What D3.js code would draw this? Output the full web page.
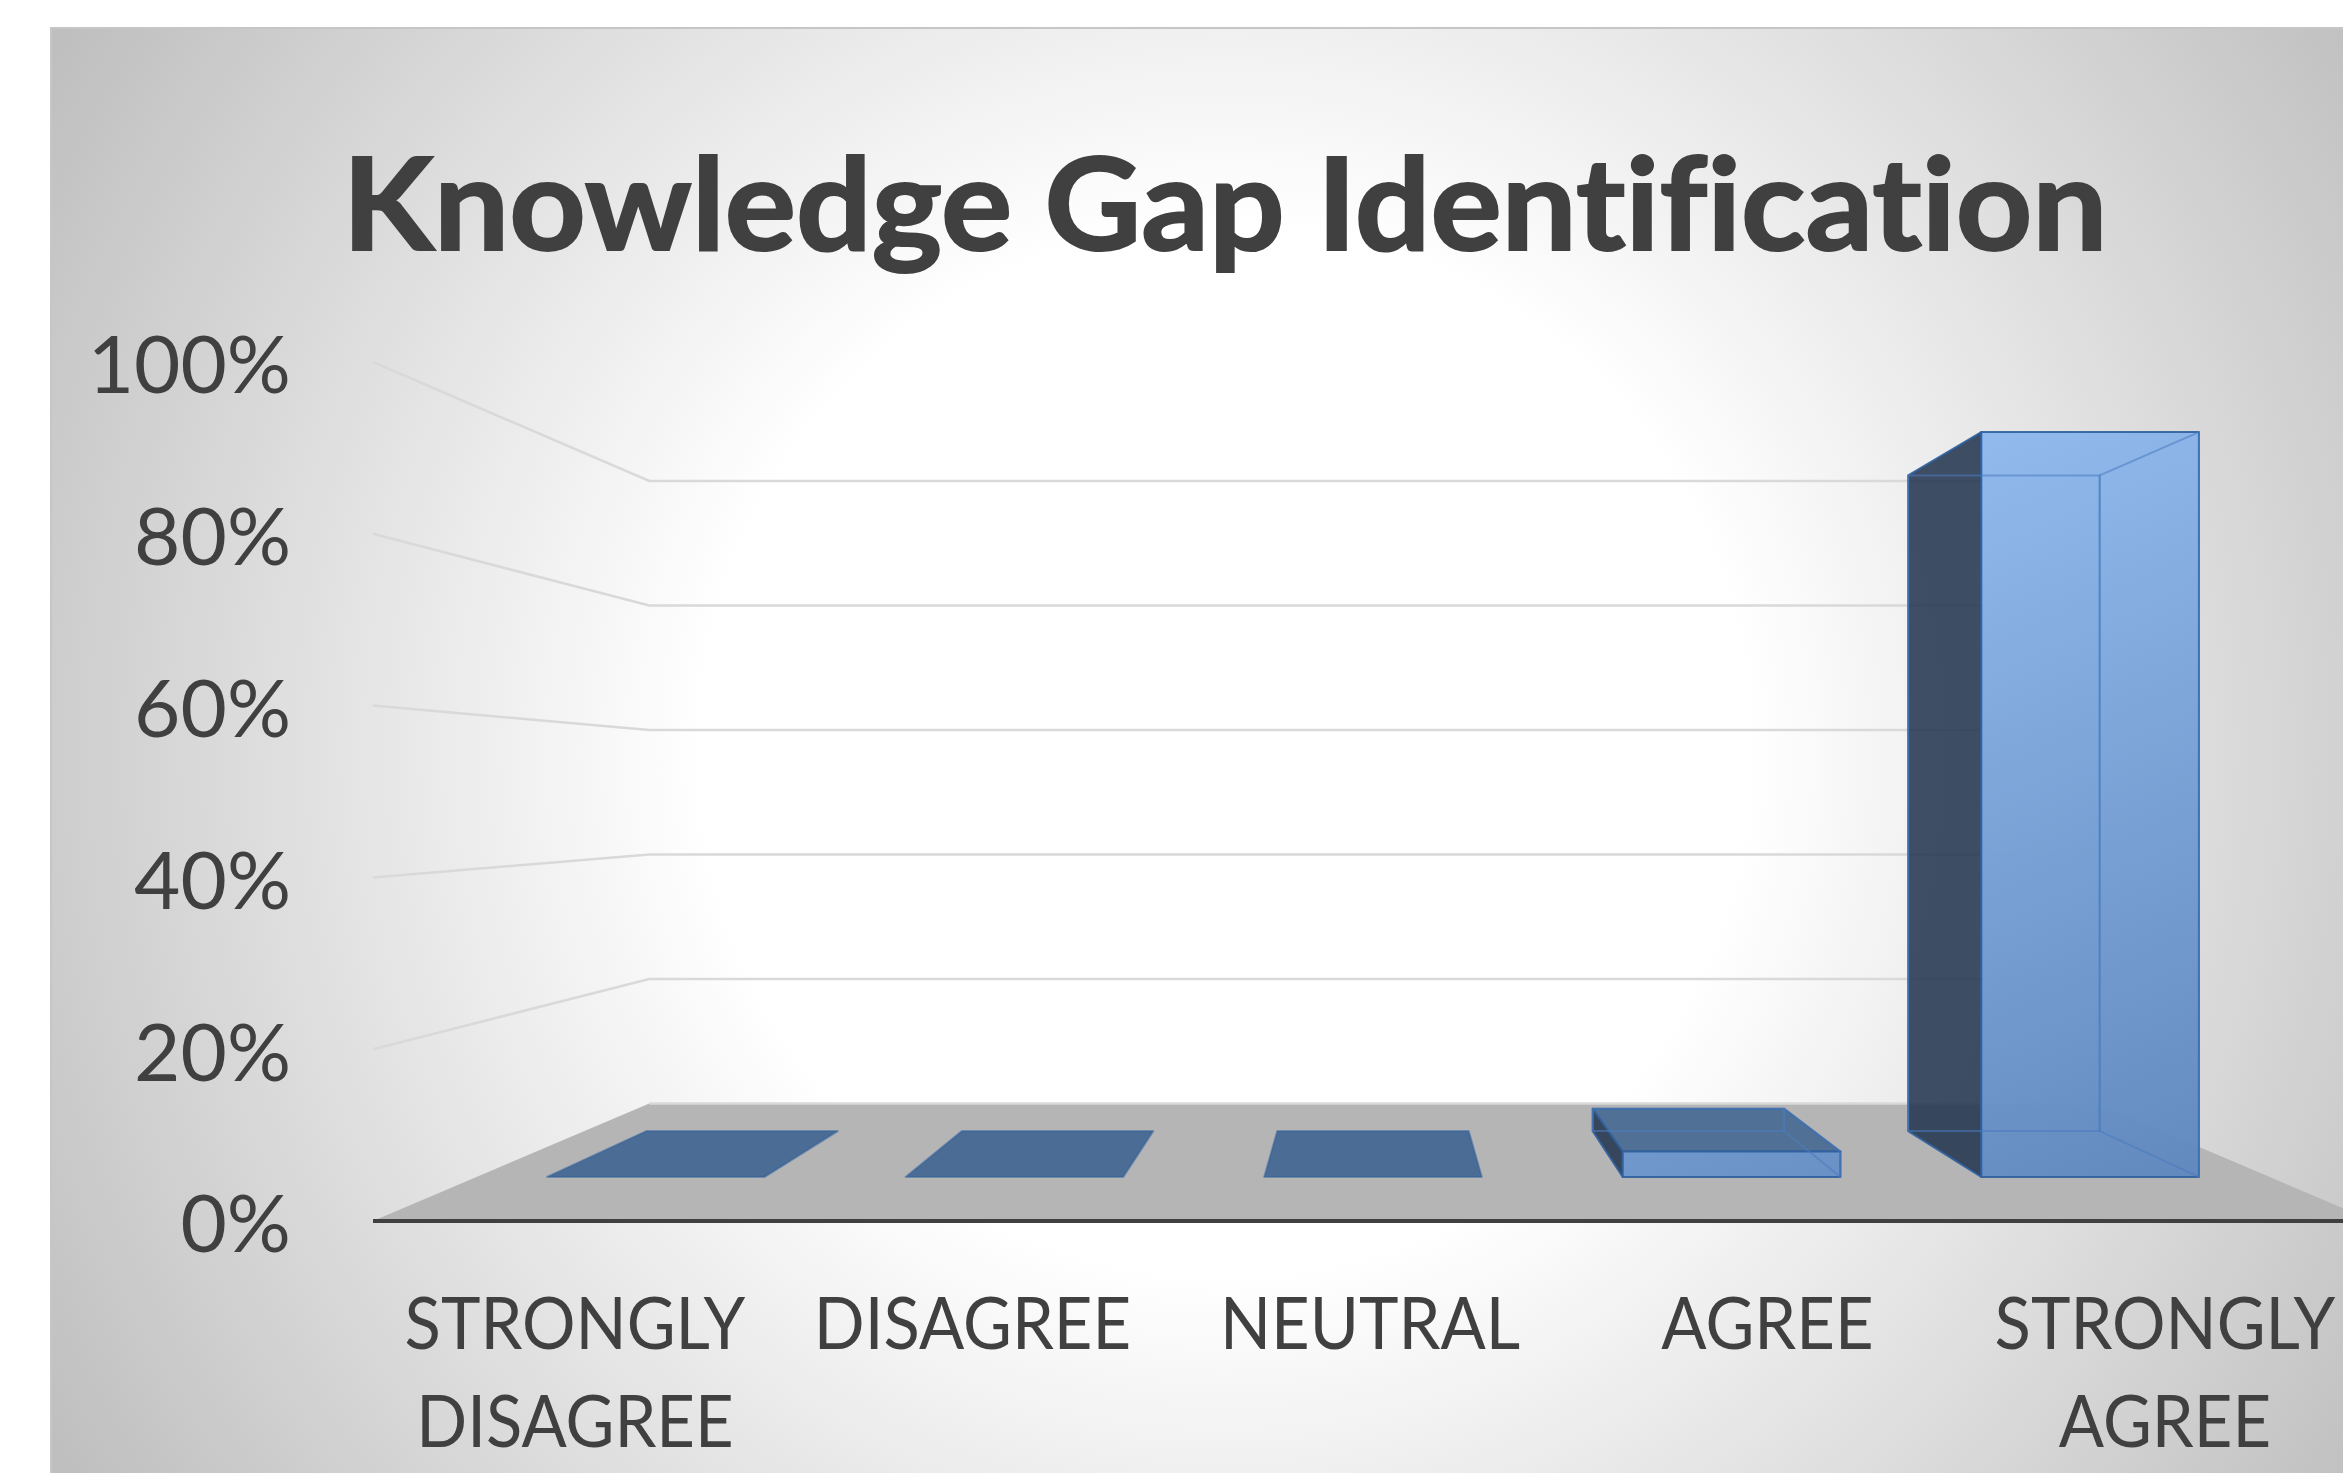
<!DOCTYPE html>
<html>
<head>
<meta charset="utf-8">
<script src="https://cdn.jsdelivr.net/npm/d3@7"></script>
<style>
  html, body { margin: 0; padding: 0; background: #fff; overflow: hidden; }
  text { font-family: Lato, "Open Sans", sans-serif; fill: #404040; font-variant-ligatures: none; }
</style>
</head>
<body>
<div id="container"></div>
<script>
var title = "Knowledge Gap Identification";
var categories = ["STRONGLY DISAGREE", "DISAGREE", "NEUTRAL", "AGREE", "STRONGLY AGREE"];
var categoryLines = [["STRONGLY", "DISAGREE"], ["DISAGREE"], ["NEUTRAL"], ["AGREE"], ["STRONGLY", "AGREE"]];
var values = [0, 0, 0, 3.3, 96.7];
var yTicks = [0, 20, 40, 60, 80, 100];

var width = 2343, height = 1473;

var svg = d3.select("#container").append("svg")
    .attr("width", width)
    .attr("height", height)
    .style("display", "block");

var defs = svg.append("defs");

var bg = defs.append("radialGradient")
    .attr("id", "bg")
    .attr("gradientUnits", "userSpaceOnUse")
    .attr("cx", 1225).attr("cy", 750).attr("r", 1360);
bg.append("stop").attr("offset", "0.385").attr("stop-color", "#ffffff");
bg.append("stop").attr("offset", "1").attr("stop-color", "#bfbfbf");

var frontFill = defs.append("linearGradient")
    .attr("id", "frontFill")
    .attr("gradientUnits", "userSpaceOnUse")
    .attr("x1", 1950).attr("y1", 430).attr("x2", 2250).attr("y2", 1180);
frontFill.append("stop").attr("offset", "0").attr("stop-color", "#8fb9ee");
frontFill.append("stop").attr("offset", "1").attr("stop-color", "#5e87bd");

// depth 0 = front of the floor, depth 1 = back wall
var centerX = 1373;
var spacing = d3.scaleLinear().domain([0, 1]).range([400, 289.5]);
var baseY = d3.scaleLinear().domain([0, 1]).range([1221, 1103.5]);
var fullH = d3.scaleLinear().domain([0, 1]).range([859, 622.5]);
var barIndex = d3.scaleLinear().domain([0, categories.length]).range([-2.5, 2.5]);

var barDepthFront = 0.375, barDepthBack = 0.765, barWidth = 0.607;

function project(u, depth, v) {
    return [
        centerX + barIndex(u) * spacing(depth),
        baseY(depth) - v / 100 * fullH(depth)
    ];
}
function poly(pts) {
    return pts.map(p => p.join(",")).join(" ");
}

svg.append("rect")
    .attr("x", 51).attr("y", 28)
    .attr("width", width + 20).attr("height", height + 20)
    .attr("fill", "url(#bg)")
    .attr("stroke", "#c6c6c6")
    .attr("stroke-width", 2);

var n = categories.length;

// floor
svg.append("polygon")
    .attr("points", poly([project(0, 0, 0), project(0, 1, 0), project(n, 1, 0), project(n, 0, 0)]))
    .attr("fill", "#b5b5b5");

// grid lines, side wall part then back wall part
svg.append("g").selectAll("polyline")
    .data(yTicks)
    .enter().append("polyline")
    .attr("points", d => d === 0
        ? poly([project(0, 1, 0), project(n, 1, 0)])
        : poly([project(0, 0, d), project(0, 1, d), project(n, 1, d)]))
    .attr("fill", "none")
    .attr("stroke", "#d9d9d9")
    .attr("stroke-width", 2.5);

svg.append("line")
    .attr("x1", project(0, 0, 0)[0]).attr("y1", baseY(0))
    .attr("x2", width).attr("y2", baseY(0))
    .attr("stroke", "#404040")
    .attr("stroke-width", 4);

// bars
var barColor = "#2f5f9e";
var innerColor = "#4a7cc0";
var bars = svg.append("g").selectAll("g.bar")
    .data(values)
    .enter().append("g")
    .attr("class", "bar");

function corners(v, i) {
    var a = i + (1 - barWidth) / 2, b = i + (1 + barWidth) / 2;
    return {
        fbl: project(a, barDepthFront, 0), fbr: project(b, barDepthFront, 0),
        ftl: project(a, barDepthFront, v), ftr: project(b, barDepthFront, v),
        bbl: project(a, barDepthBack, 0), bbr: project(b, barDepthBack, 0),
        btl: project(a, barDepthBack, v), btr: project(b, barDepthBack, v)
    };
}

bars.each(function (v, i) {
    var c = corners(v, i);
    var g = d3.select(this);
    function face(pts, fill, opacity, stroke, strokeOpacity) {
        g.append("polygon")
            .attr("points", poly(pts))
            .attr("fill", fill)
            .attr("fill-opacity", opacity)
            .attr("stroke", stroke)
            .attr("stroke-opacity", strokeOpacity)
            .attr("stroke-width", 2)
            .attr("stroke-linejoin", "round");
    }
    if (v === 0) {
        face([c.btl, c.btr, c.ftr, c.ftl], "#4b6d95", 1, barColor, 0.5);
        return;
    }
    face([c.btl, c.ftl, c.fbl, c.bbl], "#22354f", 0.87, barColor, 0.9);
    if (v < 50) face([c.btl, c.btr, c.ftr, c.ftl], "#3f648f", 0.85, barColor, 0.8);
    face([c.ftl, c.ftr, c.fbr, c.fbl], "url(#frontFill)", 0.97, barColor, 0.9);
    // edges seen through the front face
    face([c.btl, c.btr, c.bbr, c.bbl], "none", 0, innerColor, 0.55);
    face([c.btr, c.ftr, c.fbr, c.bbr], "none", 0, innerColor, 0.55);
});

// y axis
var yAxisScale = d3.scaleLinear().domain([0, 100]).range([baseY(0), baseY(0) - fullH(0)]);
var yAxis = svg.append("g")
    .attr("transform", "translate(291,2)")
    .call(d3.axisLeft(yAxisScale).tickValues(yTicks).tickSize(0).tickPadding(0).tickFormat(d => d + "%"));
yAxis.select(".domain").remove();
yAxis.selectAll("text")
    .style("font-family", "Lato, sans-serif")
    .style("font-size", "80px")
    .attr("dy", "0.36em");

// category labels, narrowed a bit to fit the reference widths
var labelX = d3.scalePoint().domain(categories).range([575, 2165]);
var labels = svg.append("g").selectAll("text")
    .data(categories)
    .enter().append("text")
    .attr("transform", d => `translate(${labelX(d)},0) scale(0.93,1)`)
    .attr("text-anchor", "middle")
    .style("font-size", "72px");
labels.selectAll("tspan")
    .data((d, i) => categoryLines[i])
    .enter().append("tspan")
    .attr("x", 0)
    .attr("y", (d, i) => 1349 + i * 98)
    .text(d => d);

svg.append("text")
    .attr("x", 1225)
    .attr("y", 250)
    .attr("text-anchor", "middle")
    .attr("textLength", 1765)
    .attr("lengthAdjust", "spacingAndGlyphs")
    .style("font-size", "128px")
    .style("font-weight", 700)
    .style("stroke", "#404040")
    .style("stroke-width", 2)
    .text(title);
</script>
</body>
</html>
